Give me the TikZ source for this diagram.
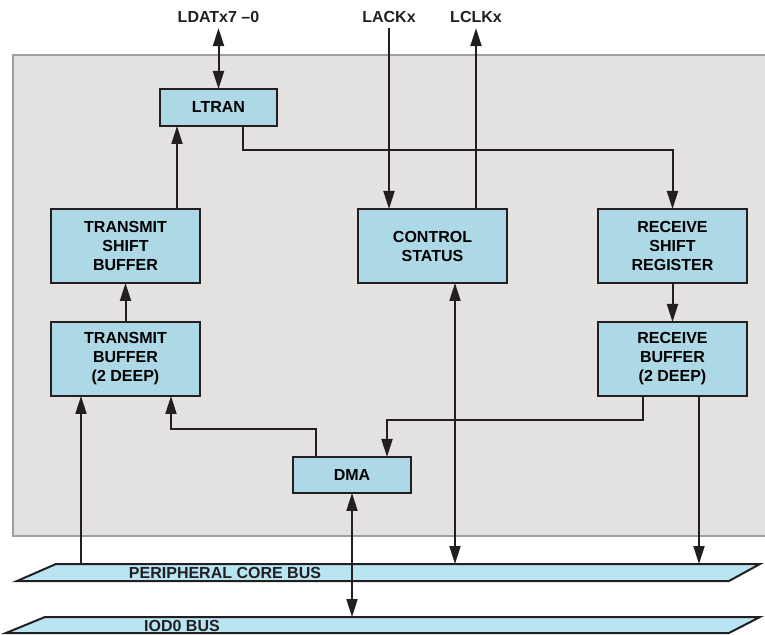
\documentclass[tikz,border=0pt]{standalone}
\usepackage{fontspec}
\setmainfont{Liberation Sans}
\usetikzlibrary{arrows.meta, positioning, calc}
\definecolor{unitblue}{HTML}{ADD8E6}
\definecolor{busblue}{HTML}{B9E5F3}
\definecolor{panelgray}{HTML}{E3E2E1}
\definecolor{panelline}{HTML}{A0A0A0}
\definecolor{inkdark}{HTML}{231F20}
\tikzset{
    block_unit/.style={rectangle, draw=inkdark, line width=1.1pt, fill=unitblue, align=center, minimum width=74.5pt, minimum height=37pt, inner sep=0pt, outer sep=0pt},
    pin_label/.style={text=inkdark, inner sep=2.5pt},
    bus_shape/.style={fill=busblue, draw=inkdark, line width=1pt},
    bus_label/.style={text=inkdark, inner sep=0pt},
    arrow/.style={-{Triangle[length=9pt, width=5.5pt]}, line width=1pt, draw=inkdark},
    dblarrow/.style={{Triangle[length=9pt, width=5.5pt]}-{Triangle[length=9pt, width=5.5pt]}, line width=1pt, draw=inkdark}
}

\begin{document}
\begin{tikzpicture}[x=0.5pt, y=-0.5pt, node distance=19.5pt and 79pt, every node/.style={font=\fontsize{8}{9.5}\selectfont\bfseries}]
    \useasboundingbox (0,0) rectangle (765,635);

    % Port panel
    \fill[panelgray] (13,55) rectangle (765,536);
    \draw[panelline, line width=1.2pt] (765,55) -- (13,55) -- (13,536) -- (765,536);

    % Units
    \node (txshift) [block_unit] at (125.5,246) {TRANSMIT\\SHIFT\\BUFFER};
    \node (txbuf) [block_unit, below=of txshift] {TRANSMIT\\BUFFER\\(2 DEEP)};
    \node (ctrl) [block_unit, right=of txshift] {CONTROL\\STATUS};
    \node (rxshift) [block_unit, right=45.5pt of ctrl] {RECEIVE\\SHIFT\\REGISTER};
    \node (rxbuf) [block_unit, below=of rxshift] {RECEIVE\\BUFFER\\(2 DEEP)};
    \node (ltran) [block_unit, minimum width=58.5pt, minimum height=18.5pt] at (218.5,107.5) {LTRAN};
    \node (dma) [block_unit, minimum width=59pt, minimum height=18pt] at (352,475) {DMA};

    % Pins
    \node (ldat) [pin_label] at (218.5,17) {LDATx7 --0};
    \node (lack) [pin_label] at (389,17) {LACKx};
    \node (lclk) [pin_label] at (476,17) {LCLKx};

    % Buses
    \draw[bus_shape] (56,564) -- (760,564) -- (729,581) -- (17,581) -- cycle;
    \node (pcb) [bus_label] at (225,573) {PERIPHERAL CORE BUS};
    \coordinate (pcbtop) at (0,564);
    \draw[bus_shape] (45,617) -- (760,617) -- (729,633) -- (6,633) -- cycle;
    \node (iod) [bus_label] at (182,626) {IOD0 BUS};
    \coordinate (iodtop) at (0,617);

    % Pin connections
    \draw[dblarrow] (ldat) -- (ltran);
    \draw[arrow] (lack.south) -- (lack.south |- ctrl.north);
    \draw[arrow] (ctrl.north -| lclk.south) -- (lclk.south);

    % Transmit and receive paths
    \draw[arrow] ([xshift=12.25pt]ltran.south) -- ++(0,24) -| (rxshift.north);
    \draw[arrow] ([xshift=25.75pt]txshift.north) coordinate (tx_up) -- (tx_up |- ltran.south);
    \draw[arrow] (txbuf) -- (txshift);
    \draw[arrow] (rxshift) -- (rxbuf);
    \draw[arrow] ([xshift=-14.75pt]rxbuf.south) -- ++(0,24) -| ([xshift=17.5pt]dma.north);
    \draw[arrow] ([xshift=-18pt]dma.north) -- ++(0,-28) -| ([xshift=22.75pt]txbuf.south);

    % Bus connections
    \draw[dblarrow] ([xshift=11.25pt]ctrl.south) coordinate (ctrl_bus) -- (ctrl_bus |- pcbtop);
    \draw[arrow] ([xshift=13.25pt]rxbuf.south) coordinate (rx_bus) -- (rx_bus |- pcbtop);
    \draw[arrow] ([xshift=-22.25pt]txbuf.south) coordinate (tx_bus) (tx_bus |- pcbtop) -- (tx_bus);
    \draw[dblarrow] (dma.south) -- (dma.south |- iodtop);
\end{tikzpicture}
\end{document}
